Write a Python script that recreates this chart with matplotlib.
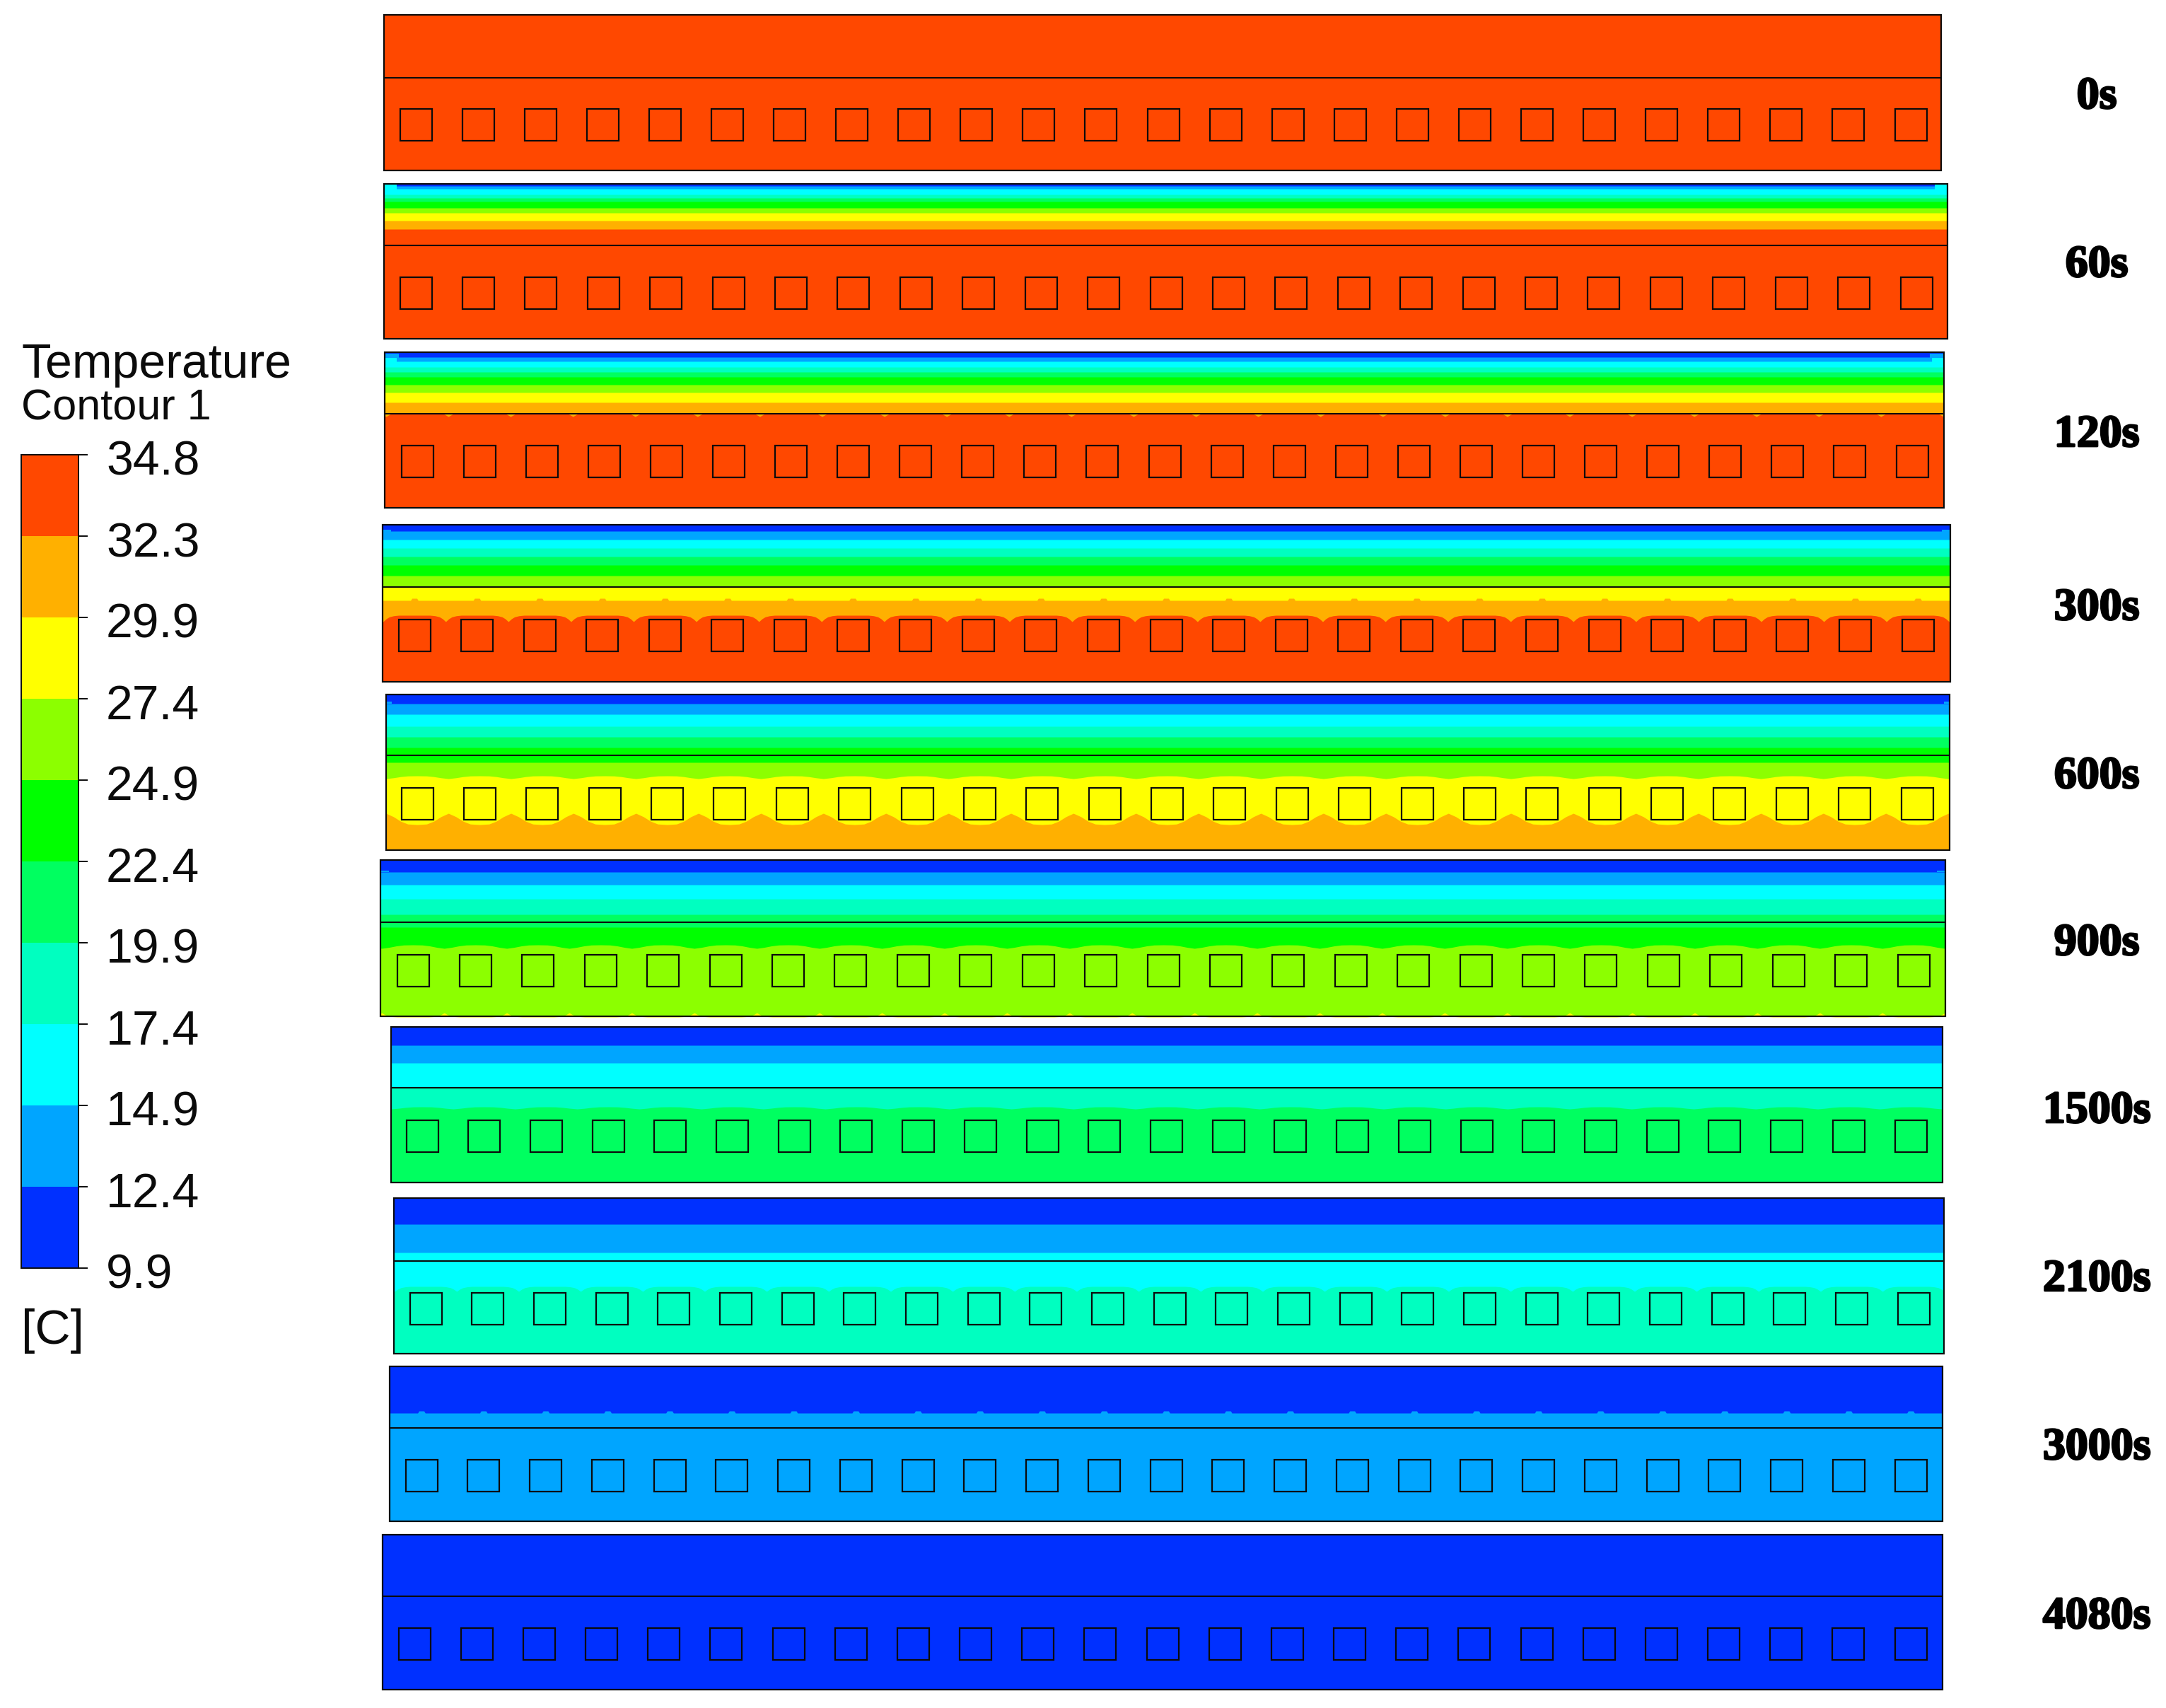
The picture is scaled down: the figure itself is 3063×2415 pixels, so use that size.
"""Transient temperature contours of the ten time steps, with the legend bar on the left."""
import matplotlib
matplotlib.use("Agg")
import matplotlib.pyplot as plt
import matplotlib.patheffects as pe
from matplotlib.patches import Rectangle
import numpy as np

W, H = 3063, 2415
INK = "#0b0b0b"

# legend
LEVEL_LABELS = ["34.8", "32.3", "29.9", "27.4", "24.9", "22.4", "19.9", "17.4", "14.9", "12.4", "9.9"]
LEVEL_COLORS = ["#0030ff", "#00a5ff", "#00ffff", "#00ffc0", "#00ff60",
                "#00ff00", "#8cff00", "#ffff00", "#ffb000", "#ff4800"]  # cold -> hot

TIMES = ["0s", "60s", "120s", "300s", "600s", "900s", "1500s", "2100s", "3000s", "4080s"]

# contour band edges, px below the top of each panel, cold side first
BAND_START = [9, 0, 0, 0, 0, 0, 0, 0, 0, 0]
BANDS_0S = []
BANDS_60S = [3, 7, 15, 20, 25, 34, 41, 52, 64]
BANDS_120S = [7, 13, 21, 28, 35, 46, 57, 71, 87]
BANDS_300S = [9, 21, 33, 45, 57, 72, 88, 107, 128]
BANDS_600S = [13, 28, 45, 60, 75, 96, 115, 184]
BANDS_900S = [17, 35, 55, 77, 95, 120, 222]
BANDS_1500S = [26, 51, 86, 113]
BANDS_2100S = [37, 77, 125]
BANDS_3000S = [66]
BANDS_4080S = []
ALL_BANDS = [BANDS_0S, BANDS_60S, BANDS_120S, BANDS_300S, BANDS_600S,
             BANDS_900S, BANDS_1500S, BANDS_2100S, BANDS_3000S, BANDS_4080S]

# edge shapes over one heater pitch (0 and 1 = halfway between two squares)
SHAPES = {
    "dome": ([0, .05, .1, .17, .25, .75, .83, .9, .95, 1], [1, .55, .25, .08, 0, 0, .08, .25, .55, 1]),
    "arch": ([0, .06, .12, .235, .35, .5, .65, .765, .88, .94, 1],
             [1, .85, .7, .3, .05, 0, .05, .3, .7, .85, 1]),
    "bump": ([.44, .46, .54, .56], [0, 1, 1, 0]),
    "spike": ([0, .08, .92, 1], [1, 0, 0, 1]),
}
# which band edge is wavy: time -> {edge index: (shape, px)}
WAVES = {
    "120s": {8: ("spike", 4)},
    "300s": {7: ("bump", -3), 8: ("dome", 9)},
    "600s": {6: ("arch", 4), 7: ("arch", -16)},
    "900s": {5: ("arch", 5), 6: ("dome", -6)},
    "1500s": {3: ("arch", 3)},
    "2100s": {2: ("dome", 7)},
    "3000s": {0: ("bump", -3)},
}
# small warmer patches in the top corners: time -> (band, width, depth from, depth to)
CORNERS = {
    "60s": [(2, 18, 1, 10)],
    "120s": [(1, 20, 2, 8), (2, 17, 8, 14)],
    "300s": [(1, 12, 7, 10)],
    "600s": [(1, 8, 10, 13)],
    "900s": [(1, 12, 15, 17)],
}

# panel frames, px
P_LEFT = [543, 543, 544, 541, 546, 538, 553, 557, 551, 541]
P_RIGHT = [2745, 2754, 2749, 2758, 2757, 2751, 2747, 2749, 2747, 2747]
P_TOP = [21, 260, 498, 742, 982, 1216, 1452, 1694, 1932, 2170]
P_DIV = [110, 347, 585, 830, 1068, 1304, 1538, 1783, 2019, 2257]
P_BOT = [241, 479, 718, 964, 1202, 1437, 1672, 1914, 2151, 2389]
SQ_FIRST = [588, 588, 590, 586, 590, 584, 597, 602, 596, 586]
SQ_LAST = [2702, 2710, 2704, 2712, 2711, 2706, 2702, 2706, 2702, 2702]
SQ_Y = [176, 414, 652, 898, 1136, 1372, 1606, 1850, 2086, 2324]
LABEL_Y = [153, 391, 631, 876, 1114, 1350, 1587, 1825, 2063, 2302]
N_SQ, SQ = 25, 45


def edge(x, first, pitch, depth, wave):
    y = np.full_like(x, float(depth))
    if wave:
        s, v = SHAPES[wave[0]]
        y += wave[1] * np.interp(((x - first) / pitch + 0.5) % 1.0, s, v)
    return y


def draw_panel(ax, i):
    name = TIMES[i]
    l, r, t, d, b = P_LEFT[i], P_RIGHT[i], P_TOP[i], P_DIV[i], P_BOT[i]
    first, last = SQ_FIRST[i], SQ_LAST[i]
    pitch = (last - first) / (N_SQ - 1)
    x = np.arange(l, r + 0.5, 0.5)
    waves = WAVES.get(name, {})

    # paint cold to hot, each band running down to the panel bottom
    start = BAND_START[i]
    ax.fill_between(x, t, b, color=LEVEL_COLORS[start], lw=0)
    for k, depth in enumerate(ALL_BANDS[i]):
        ax.fill_between(x, t + edge(x, first, pitch, depth, waves.get(k)), b,
                        color=LEVEL_COLORS[start + k + 1], lw=0)

    for band, w, d0, d1 in CORNERS.get(name, []):
        ax.add_patch(Rectangle((l, t + d0), w, d1 - d0, color=LEVEL_COLORS[band], lw=0))
        ax.add_patch(Rectangle((r - w, t + d0), w, d1 - d0, color=LEVEL_COLORS[band], lw=0))

    ax.add_patch(Rectangle((l, t), r - l, b - t, fill=False, ec=INK, lw=1.6))
    ax.plot([l, r], [d, d], color=INK, lw=1.5, solid_capstyle="butt")

    cy = SQ_Y[i]
    for cx in np.linspace(first, last, N_SQ):
        ax.add_patch(Rectangle((cx - SQ / 2, cy - SQ / 2), SQ, SQ, fill=False, ec=INK, lw=1.6))

    ax.text(2965, LABEL_Y[i], name, family="Liberation Serif", fontweight="bold",
            fontsize=46, color="black", ha="center", va="baseline",
            path_effects=[pe.withStroke(linewidth=2, foreground="black")])


def draw_legend(ax):
    cb_l, cb_r, cb_t, step = 30, 111, 643, 115
    for k, c in enumerate(LEVEL_COLORS[::-1]):
        ax.add_patch(Rectangle((cb_l, cb_t + k * step), cb_r - cb_l, step, color=c, lw=0))
    ax.add_patch(Rectangle((cb_l, cb_t), cb_r - cb_l, step * 10, fill=False, ec=INK, lw=1.4))
    for k, lab in enumerate(LEVEL_LABELS):
        y = cb_t + k * step
        ax.plot([cb_r, 124], [y, y], color=INK, lw=1.4, solid_capstyle="butt")
        ax.text(150, y + 29, lab, fontsize=49, color=INK, va="baseline")
    ax.text(30, 534, "Temperature", fontsize=49, color=INK, va="baseline")
    ax.text(30, 593, "Contour 1", fontsize=44, color=INK, va="baseline")
    ax.text(30, 1900, "[C]", fontsize=50, color=INK, va="baseline")


def main():
    plt.rcParams["font.family"] = ["Liberation Sans", "DejaVu Sans"]
    fig = plt.figure(figsize=(W / 100, H / 100), dpi=100)
    ax = fig.add_axes([0, 0, 1, 1])
    ax.set_xlim(0, W)
    ax.set_ylim(H, 0)
    ax.axis("off")

    for i in range(len(TIMES)):
        draw_panel(ax, i)
    draw_legend(ax)

    fig.savefig("out.png", dpi=100, facecolor="white")


if __name__ == "__main__":
    main()
